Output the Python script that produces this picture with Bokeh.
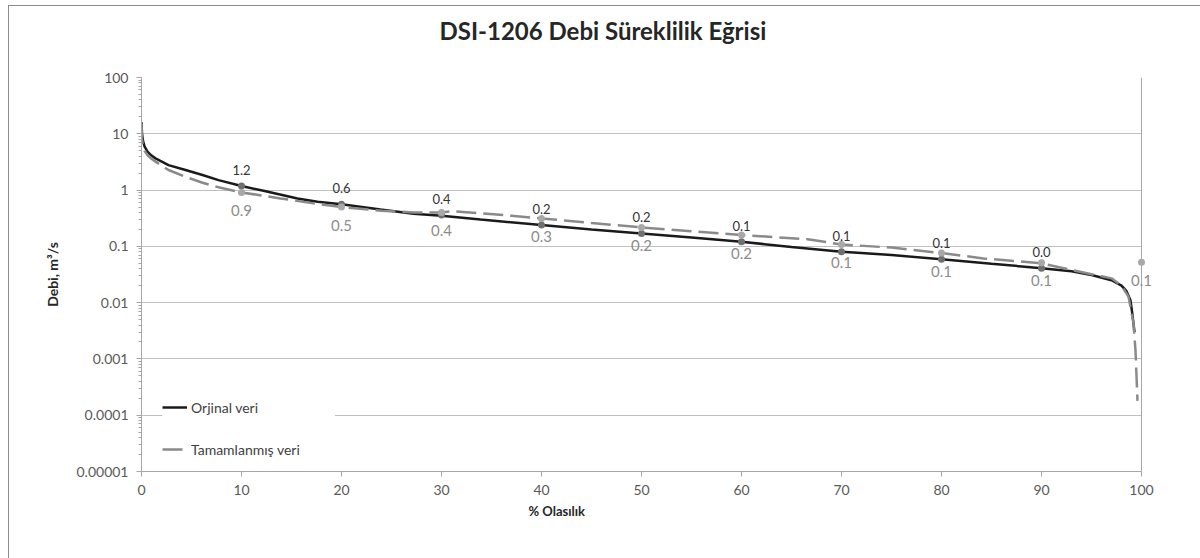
from bokeh.plotting import figure
from bokeh.models import (FixedTicker, Legend, LegendItem, ColumnDataSource,
                          InlineStyleSheet, Title, Span, Range1d, Grid)
from bokeh.core.properties import value
from bokeh.embed import file_html
from bokeh.resources import INLINE

# Flow duration curves (% exceedance vs discharge, m3/s)
orig_pct = [0, 0.05, 0.15, 0.3, 0.6, 1, 1.4, 2.7, 4.4, 6.1, 7.7, 10, 12.2, 15.6,
            17.6, 20, 23.9, 27.2, 30, 33.9, 40, 45, 50, 55, 60, 65, 70, 72, 75, 80,
            85, 90, 93, 95, 97, 98, 98.5, 98.9, 99.1, 99.3]
orig_q = [16, 10, 7.5, 6.0, 4.8, 4.1, 3.66, 2.78, 2.27, 1.85, 1.5, 1.18, 0.97, 0.71,
          0.62, 0.56, 0.45, 0.38, 0.35, 0.30, 0.239, 0.2, 0.17, 0.143, 0.121, 0.097,
          0.08, 0.076, 0.07, 0.059, 0.049, 0.041, 0.036, 0.031, 0.025, 0.02, 0.016,
          0.011, 0.006, 0.003]

comp_pct = [0, 0.05, 0.15, 0.3, 0.6, 1, 1.4, 2.7, 4.4, 6.1, 7.7, 10, 13.9, 17.2, 20,
            24, 27.2, 30, 31, 34, 37, 40, 45, 50, 55, 60, 66.6, 70, 75, 80, 84.2,
            90, 95, 97, 98, 98.7, 99.2, 99.4, 99.6]
comp_q = [15, 8, 6, 5.0, 4.2, 3.6, 3.2, 2.27, 1.72, 1.35, 1.12, 0.91, 0.71, 0.58,
          0.5, 0.43, 0.4, 0.4, 0.42, 0.385, 0.35, 0.314, 0.26, 0.217, 0.185, 0.159,
          0.134, 0.108, 0.095, 0.076, 0.061, 0.05, 0.032, 0.027, 0.02, 0.0128,
          0.0043, 0.0014, 0.00018]

# Labelled percentile points
orig_mark_pct = [10, 20, 30, 40, 50, 60, 70, 80, 90]
orig_mark_q = [1.18, 0.56, 0.36, 0.239, 0.17, 0.121, 0.08, 0.059, 0.041]
comp_mark_pct = [10, 20, 30, 40, 50, 60, 70, 80, 90, 100]
comp_mark_q = [0.91, 0.50, 0.40, 0.314, 0.217, 0.159, 0.108, 0.076, 0.051, 0.052]

y_ticks = [1e-5, 1e-4, 1e-3, 1e-2, 1e-1, 1, 10, 100]
y_tick_labels = ["0.00001", "0.0001", "0.001", "0.01", "0.1", "1", "10", "100"]
x_ticks = [0, 10, 20, 30, 40, 50, 60, 70, 80, 90, 100]
X_MAX = 100

FONT = "Lato"
AXIS_GRAY = "#a6a6a6"

# Left and top edges of the surrounding chart border
border_css = InlineStyleSheet(css="""
:host::after {
  content: "";
  position: absolute;
  left: 8px;
  top: 5px;
  width: calc(100% - 8px);
  height: calc(100% - 5px);
  border-left: 1.5px solid #8c8c8c;
  border-top: 1.5px solid #8c8c8c;
  box-sizing: border-box;
  pointer-events: none;
}
""")

# A little room past 100 % keeps the end-point label readable
p = figure(width=1200, height=558, y_axis_type="log",
           x_range=Range1d(0, X_MAX + 2), y_range=(1e-5, 100),
           output_backend="svg", toolbar_location=None,
           min_border_left=141, min_border_right=39,
           min_border_top=77, min_border_bottom=87)
p.stylesheets = [border_css]
p.background_fill_color = "white"
p.border_fill_color = "white"
p.outline_line_color = None

minor = [k * 10.0 ** d for d in range(-5, 2) for k in range(2, 10)]
p.yaxis.ticker = FixedTicker(ticks=y_ticks, minor_ticks=minor)
p.yaxis.major_label_overrides = {t: s for t, s in zip(y_ticks, y_tick_labels)}
p.xaxis.ticker = FixedTicker(ticks=x_ticks, minor_ticks=[])
p.xaxis.bounds = (0, X_MAX)

for ax in (p.xaxis, p.yaxis):
    ax.axis_line_color = AXIS_GRAY
    ax.major_tick_line_color = AXIS_GRAY
    ax.minor_tick_line_color = AXIS_GRAY
    ax.major_tick_in = 0
    ax.major_tick_out = 5
    ax.minor_tick_in = 0
    ax.minor_tick_out = 3
    ax.major_label_text_font = FONT
    ax.major_label_text_font_size = "14px"
    ax.major_label_text_color = "#595959"
    ax.major_label_standoff = 8

p.yaxis.axis_label = "Debi, m³/s"
p.yaxis.axis_label_text_font = FONT
p.yaxis.axis_label_text_font_style = "bold"
p.yaxis.axis_label_text_font_size = "14px"
p.yaxis.axis_label_text_color = "#262626"
p.yaxis.axis_label_standoff = 12

p.xgrid.visible = False
p.ygrid.ticker = FixedTicker(ticks=y_ticks)
p.ygrid.grid_line_color = "#c0c0c0"
p.ygrid.grid_line_width = 1
p.ygrid.cross_bounds = (0, X_MAX)

# Plot-area border: top edge and right edge at 100 %
p.add_layout(Grid(dimension=1, ticker=FixedTicker(ticks=[100]),
                  grid_line_color=AXIS_GRAY, grid_line_width=2,
                  cross_bounds=(0, X_MAX)))
p.add_layout(Span(location=X_MAX, dimension="height", line_color=AXIS_GRAY,
                  line_width=1, level="underlay"))

r_orig = p.line(orig_pct, orig_q, line_color="#1a1a1a", line_width=2.5)
r_comp = p.line(comp_pct, comp_q, line_color="#8a8a8a", line_width=2.5,
                line_dash="20 7")

orig_src = ColumnDataSource(dict(x=orig_mark_pct, y=orig_mark_q,
                                 t=[f"{v:.1f}" for v in orig_mark_q]))
comp_src = ColumnDataSource(dict(x=comp_mark_pct, y=comp_mark_q,
                                 t=[f"{v:.1f}" for v in comp_mark_q]))

p.scatter("x", "y", source=orig_src, size=7, fill_color="#707070", line_color=None)
p.scatter("x", "y", source=comp_src, size=7, fill_color="#a8a8a8", line_color=None)

p.text("x", "y", text="t", source=orig_src, text_font=value(FONT),
       text_font_size="13px", text_color="#333333", text_align="center",
       text_baseline="middle", y_offset=-16)
p.text("x", "y", text="t", source=comp_src, text_font=value(FONT),
       text_font_size="15px", text_color="#8c8c8c", text_align="center",
       text_baseline="middle", y_offset=18)

legend = Legend(items=[LegendItem(label="Orjinal veri", renderers=[r_orig]),
                       LegendItem(label="Tamamlanmış veri", renderers=[r_comp])],
                location=(21, 12), orientation="vertical",
                background_fill_color="white", background_fill_alpha=1,
                border_line_color=None, padding=10, margin=0, spacing=22,
                glyph_width=25, glyph_height=20, label_height=20, label_width=144,
                label_standoff=4, label_text_font=FONT,
                label_text_font_size="14px", label_text_color="#404040")
p.add_layout(legend)

# Chart title, lifted above the plot area by an empty spacer band
p.add_layout(Title(text="\u00a0", text_font_size="1px", standoff=30), "above")
p.title.text = "DSI-1206 Debi Süreklilik Eğrisi"
p.title.align = "left"
p.title.offset = 298
p.title.standoff = 0
p.title.vertical_align = "bottom"
p.title.text_font = FONT
p.title.text_font_style = "bold"
p.title.text_font_size = "24px"
p.title.text_color = "#262626"

# x-axis title
p.add_layout(Title(text="% Olasılık", align="left", offset=387,
                   vertical_align="top", standoff=10, text_font=FONT,
                   text_font_style="bold", text_font_size="13px",
                   text_color="#262626"), "below")

open("out.html", "w").write(file_html(p, INLINE))
